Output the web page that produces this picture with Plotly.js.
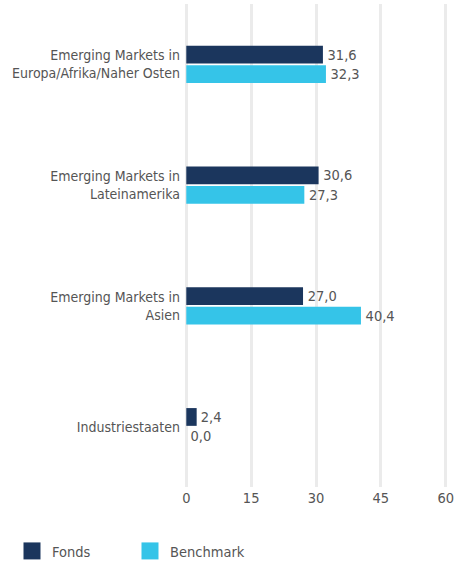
<!DOCTYPE html>
<html><head><meta charset="utf-8">
<script src="https://cdn.plot.ly/plotly-3.0.1.min.js"></script>
<style>html,body{margin:0;padding:0;background:#fff;}#chart{width:465px;height:565px;}
#chart text{font-stretch:condensed;}
#chart .legendpoints path{d:path('M8.5,8.5H-8.5V-8.5H8.5Z');}
</style>
</head><body><div id="chart"></div>
<script>
const categories = ["Emerging Markets in<br>Europa/Afrika/Naher Osten","Emerging Markets in<br>Lateinamerika","Emerging Markets in<br>Asien","Industriestaaten"];
const fonds = [31.6, 30.6, 27.0, 2.4];
const benchmark = [32.3, 27.3, 40.4, 0.0];
const xTicks = [0, 15, 30, 45, 60];
const seriesNames = ["Fonds", "Benchmark"];
const colors = ["#1b365d", "#35c4e8"];
const FONT = '"DejaVu Sans", sans-serif';

const traces = [fonds, benchmark].map((vals, i) => ({
  type: 'bar', orientation: 'h', name: seriesNames[i],
  y: categories, x: vals,
  marker: {color: colors[i]},
  texttemplate: '%{x:.1f}', textposition: 'outside', cliponaxis: false,
  textfont: {family: FONT, size: 14.5, color: '#555'},
  hoverinfo: 'skip'
}));

const layout = {
  width: 465, height: 565,
  margin: {l: 185, r: 18, t: 4, b: 78},
  separators: ',.',
  barmode: 'group', bargap: 0.68, bargroupgap: 0.08,
  font: {family: FONT, size: 14, color: '#555'},
  paper_bgcolor: '#fff', plot_bgcolor: '#fff',
  xaxis: {range: [-0.3, 60.3], tickvals: xTicks, ticktext: xTicks.map(String),
    showgrid: true, gridcolor: '#ebebeb', gridwidth: 3, zeroline: false,
    showline: false, ticks: '', tickfont: {size: 14.5, color: '#555'}, fixedrange: true},
  yaxis: {autorange: 'reversed', showgrid: false, zeroline: false, showline: false,
    ticks: '', ticklabelstandoff: 4, tickfont: {size: 14, color: '#555'}, fixedrange: true},
  showlegend: true,
  legend: {orientation: 'h', xref: 'container', yref: 'container', x: 0.0258, xanchor: 'left', y: 0.0531, yanchor: 'top',
    entrywidth: 73, entrywidthmode: 'pixels', traceorder: 'normal',
    font: {family: FONT, size: 14.5, color: '#555'}}
};
Plotly.newPlot('chart', traces, layout, {displayModeBar: false, staticPlot: true});
</script></body></html>
